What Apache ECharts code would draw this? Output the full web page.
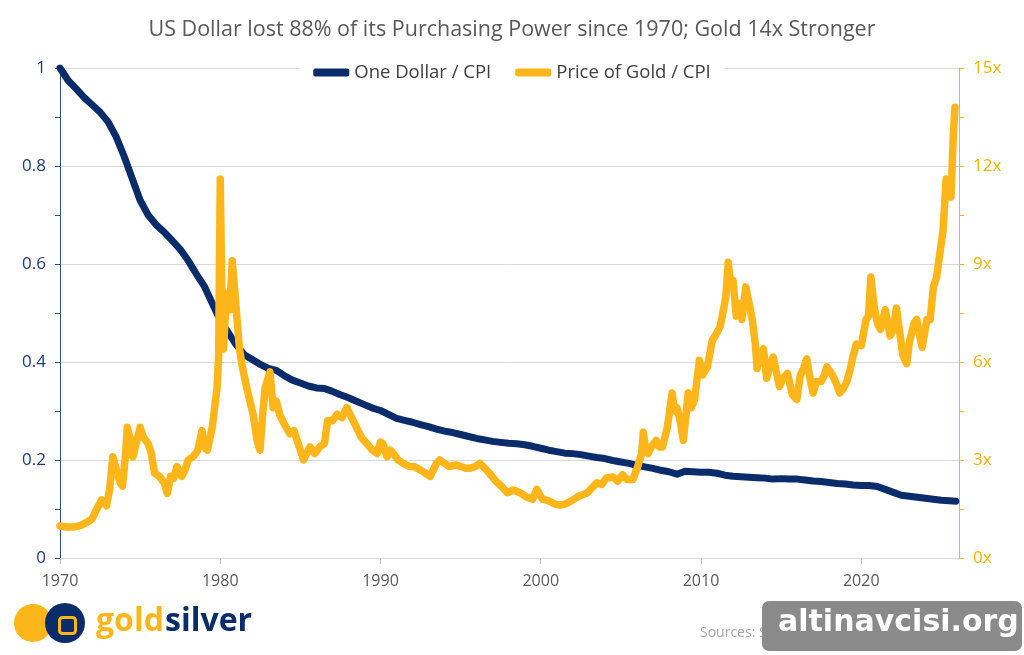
<!DOCTYPE html>
<html lang="en">
<head>
	<meta charset="UTF-8">
	<title>US Dollar vs Gold / CPI</title>
	<script src="https://cdn.jsdelivr.net/npm/echarts@6/dist/echarts.min.js"></script>
	<style>
		html, body { margin: 0; padding: 0; background: #fff; }
		#chart { width: 1024px; height: 655px; }
	</style>
</head>
<body>
	<div id="chart"></div>
	<script>
	// one dollar deflated by CPI (1970 = 1)
	var dollarYears = [1970, 1970.5, 1971, 1971.5, 1972, 1972.5, 1973, 1973.5, 1974, 1974.5,
		1975, 1975.5, 1976, 1976.5, 1977, 1977.5, 1978, 1978.5, 1979, 1979.5,
		1980, 1980.5, 1981, 1981.5, 1982, 1982.5, 1983, 1983.5, 1984, 1984.5,
		1985, 1985.5, 1986, 1986.5, 1987, 1987.5, 1988, 1988.5, 1989, 1989.5,
		1990, 1990.5, 1991, 1991.5, 1992, 1992.5, 1993, 1993.5, 1994, 1994.5,
		1995, 1995.5, 1996, 1996.5, 1997, 1997.5, 1998, 1998.5, 1999, 1999.5,
		2000, 2000.5, 2001, 2001.5, 2002, 2002.5, 2003, 2003.5, 2004, 2004.5,
		2005, 2005.5, 2006, 2006.5, 2007, 2007.5, 2008, 2008.5, 2009, 2009.5,
		2010, 2010.5, 2011, 2011.5, 2012, 2012.5, 2013, 2013.5, 2014, 2014.5,
		2015, 2015.5, 2016, 2016.5, 2017, 2017.5, 2018, 2018.5, 2019, 2019.5,
		2020, 2020.5, 2021, 2021.5, 2022, 2022.5, 2023, 2023.5, 2024, 2024.5,
		2025, 2025.5, 2025.9];
	var dollarValues = [1.0, 0.975, 0.958, 0.94, 0.925, 0.91, 0.89, 0.86, 0.82, 0.775,
		0.73, 0.70, 0.68, 0.665, 0.648, 0.63, 0.607, 0.58, 0.555, 0.52,
		0.485, 0.46, 0.435, 0.415, 0.405, 0.395, 0.387, 0.383, 0.372, 0.363,
		0.357, 0.351, 0.347, 0.346, 0.34, 0.333, 0.327, 0.32, 0.313, 0.306,
		0.301, 0.293, 0.285, 0.281, 0.277, 0.272, 0.268, 0.263, 0.259, 0.256,
		0.252, 0.248, 0.244, 0.241, 0.238, 0.236, 0.234, 0.233, 0.231, 0.228,
		0.224, 0.22, 0.217, 0.214, 0.213, 0.211, 0.208, 0.205, 0.203, 0.199,
		0.196, 0.193, 0.189, 0.186, 0.183, 0.179, 0.176, 0.171, 0.177, 0.176,
		0.175, 0.175, 0.173, 0.169, 0.167, 0.166, 0.165, 0.164, 0.163, 0.161,
		0.162, 0.161, 0.161, 0.159, 0.157, 0.156, 0.154, 0.152, 0.151, 0.149,
		0.148, 0.148, 0.146, 0.14, 0.134, 0.128, 0.126, 0.124, 0.122, 0.12,
		0.118, 0.117, 0.116];

	// gold price deflated by CPI (multiple of 1970 level)
	var goldYears = [1970, 1970.4, 1970.9, 1971.3, 1971.7, 1972, 1972.3, 1972.6, 1972.9, 1973.1,
		1973.3, 1973.5, 1973.75, 1973.9, 1974.1, 1974.2, 1974.4, 1974.55, 1974.8, 1975,
		1975.2, 1975.5, 1975.7, 1975.9, 1976.2, 1976.5, 1976.7, 1976.9, 1977.1, 1977.3,
		1977.6, 1977.8, 1978, 1978.3, 1978.6, 1978.86, 1979, 1979.2, 1979.5, 1979.7,
		1979.8, 1979.9, 1980, 1980.1, 1980.2, 1980.4, 1980.6, 1980.75, 1981, 1981.2,
		1981.4, 1981.66, 1981.85, 1982.05, 1982.3, 1982.48, 1982.65, 1982.8, 1983.1, 1983.3,
		1983.5, 1983.7, 1984, 1984.35, 1984.6, 1984.8, 1985.2, 1985.4, 1985.6, 1985.9,
		1986.2, 1986.5, 1986.7, 1987, 1987.3, 1987.6, 1987.9, 1988.2, 1988.5, 1988.8,
		1989.15, 1989.5, 1989.8, 1990, 1990.15, 1990.4, 1990.6, 1990.8, 1991.1, 1991.4,
		1991.8, 1992.1, 1992.45, 1992.8, 1993.1, 1993.5, 1993.7, 1994, 1994.3, 1994.7,
		1995, 1995.3, 1995.6, 1995.9, 1996.2, 1996.5, 1996.8, 1997.2, 1997.6, 1997.9,
		1998.3, 1998.7, 1999.1, 1999.5, 1999.75, 2000.1, 2000.5, 2000.9, 2001.2, 2001.5,
		2001.8, 2002, 2002.4, 2002.9, 2003.2, 2003.5, 2003.8, 2004.1, 2004.5, 2004.8,
		2005.1, 2005.4, 2005.75, 2006.05, 2006.3, 2006.4, 2006.55, 2006.7, 2006.9, 2007.2,
		2007.4, 2007.6, 2007.9, 2008.2, 2008.35, 2008.5, 2008.7, 2008.9, 2009.2, 2009.4,
		2009.6, 2009.9, 2010.1, 2010.4, 2010.7, 2011, 2011.2, 2011.4, 2011.55, 2011.7,
		2011.85, 2012, 2012.2, 2012.4, 2012.55, 2012.8, 2013, 2013.2, 2013.4, 2013.5,
		2013.7, 2013.9, 2014.1, 2014.3, 2014.5, 2014.7, 2014.9, 2015.1, 2015.4, 2015.7,
		2015.98, 2016.2, 2016.4, 2016.6, 2016.8, 2017, 2017.2, 2017.5, 2017.7, 2017.85,
		2018.2, 2018.4, 2018.66, 2018.9, 2019.1, 2019.3, 2019.5, 2019.7, 2020, 2020.3,
		2020.45, 2020.6, 2020.8, 2021, 2021.2, 2021.5, 2021.8, 2022, 2022.2, 2022.4,
		2022.6, 2022.84, 2023, 2023.3, 2023.46, 2023.65, 2023.8, 2024.1, 2024.3, 2024.5,
		2024.7, 2024.9, 2025.1, 2025.3, 2025.5, 2025.6, 2025.75, 2025.85];
	var goldValues = [0.98, 0.95, 0.95, 1.0, 1.1, 1.2, 1.5, 1.78, 1.6, 2.1,
		3.1, 2.75, 2.3, 2.2, 3.2, 4.0, 3.6, 3.1, 3.6, 4.0,
		3.7, 3.5, 3.2, 2.6, 2.5, 2.3, 1.98, 2.5, 2.45, 2.8,
		2.5, 2.7, 3.0, 3.1, 3.3, 3.9, 3.4, 3.3, 4.0, 4.8,
		5.2, 6.2, 11.6, 8.0, 6.4, 8.1, 7.6, 9.1, 7.6, 6.4,
		5.8, 5.2, 4.8, 4.4, 3.6, 3.3, 4.4, 5.2, 5.7, 4.6,
		4.8, 4.4, 4.1, 3.8, 3.9, 3.6, 3.0, 3.2, 3.4, 3.2,
		3.4, 3.5, 4.2, 4.2, 4.4, 4.3, 4.6, 4.3, 4.0, 3.7,
		3.5, 3.3, 3.2, 3.55, 3.5, 3.1, 3.3, 3.2, 3.0, 2.9,
		2.8, 2.8, 2.7, 2.6, 2.5, 2.9, 3.0, 2.9, 2.8, 2.85,
		2.8, 2.75, 2.75, 2.8, 2.9, 2.75, 2.6, 2.35, 2.17, 2.0,
		2.08, 2.0, 1.87, 1.8, 2.1, 1.8, 1.75, 1.65, 1.62, 1.65,
		1.72, 1.78, 1.9, 1.99, 2.15, 2.3, 2.25, 2.45, 2.48, 2.35,
		2.55, 2.4, 2.4, 2.8, 3.2, 3.85, 3.3, 3.2, 3.4, 3.6,
		3.4, 3.4, 4.0, 5.05, 4.5, 4.6, 4.2, 3.6, 5.05, 4.6,
		4.85, 6.05, 5.6, 5.85, 6.65, 6.9, 7.1, 7.6, 8.0, 9.05,
		8.4, 8.5, 7.4, 7.8, 7.3, 8.3, 7.8, 7.3, 6.5, 5.8,
		6.2, 6.4, 5.5, 5.9, 6.15, 5.7, 5.25, 5.5, 5.65, 5.0,
		4.85, 5.6, 5.8, 6.1, 5.5, 5.05, 5.4, 5.4, 5.6, 5.85,
		5.6, 5.4, 5.05, 5.2, 5.4, 5.75, 6.2, 6.55, 6.5, 7.3,
		7.4, 8.6, 7.7, 7.2, 7.0, 7.6, 6.8, 7.0, 7.65, 6.9,
		6.2, 5.95, 6.6, 7.2, 7.3, 6.8, 6.45, 7.3, 7.3, 8.3,
		8.6, 9.3, 10.0, 11.6, 11.3, 11.05, 13.0, 13.8];

	var navy = '#0b2c6b';
	var gold = '#fcb61a';

	function pairs(xs, ys) {
		var res = [];
		for (var i = 0; i < xs.length; i++) {
			res.push([xs[i], ys[i]]);
		}
		return res;
	}

	var myChart = echarts.init(document.getElementById('chart'));
	var option = {
		backgroundColor: '#fff',
		animation: false,
		title: {
			text: 'US Dollar lost 88% of its Purchasing Power since 1970; Gold 14x Stronger',
			left: 'center',
			top: 14,
			textStyle: {
				fontFamily: 'Open Sans',
				fontSize: 21.5,
				fontWeight: 'normal',
				color: '#595959'
			}
		},
		legend: {
			top: 61,
			left: 'center',
			itemGap: 24,
			itemWidth: 36,
			itemHeight: 8,
			icon: 'roundRect',
			backgroundColor: '#fff',
			padding: [2, 14],
			textStyle: {
				fontFamily: 'Open Sans',
				fontSize: 18.5,
				color: '#404040'
			},
			data: ['One Dollar / CPI', 'Price of Gold / CPI']
		},
		grid: {
			left: 60,
			right: 65,
			top: 68,
			bottom: 97
		},
		xAxis: {
			type: 'value',
			min: 1970,
			max: 2026.1,
			interval: 10,
			axisLine: { lineStyle: { color: '#d9d9d9', width: 1 } },
			axisTick: { show: true, length: 6, lineStyle: { color: '#bfbfbf' } },
			splitLine: { show: false },
			axisLabel: {
				margin: 15,
				fontFamily: 'Open Sans',
				fontSize: 16,
				color: '#595959',
				showMaxLabel: false,
				formatter: function (v) {
					return v % 10 === 0 ? String(v) : '';
				}
			}
		},
		yAxis: [
			{
				type: 'value',
				min: 0,
				max: 1,
				interval: 0.2,
				position: 'left',
				axisLine: { show: true, lineStyle: { color: '#2f4f86', width: 1 } },
				axisTick: { show: true, length: 5, lineStyle: { color: '#2f4f86' } },
				minorTick: { show: true, splitNumber: 2, length: 5, lineStyle: { color: '#2f4f86' } },
				splitLine: { show: true, lineStyle: { color: '#d9d9d9', width: 1 } },
				axisLabel: {
					margin: 14,
					fontFamily: 'Open Sans',
					fontSize: 17,
					color: '#1f3c78',
					formatter: function (v) {
						return String(Math.round(v * 10) / 10);
					}
				}
			},
			{
				type: 'value',
				min: 0,
				max: 15,
				interval: 3,
				position: 'right',
				axisLine: { show: true, lineStyle: { color: gold, width: 1 } },
				axisTick: { show: true, length: 5, lineStyle: { color: gold } },
				minorTick: { show: true, splitNumber: 2, length: 5, lineStyle: { color: gold } },
				splitLine: { show: false },
				axisLabel: {
					margin: 14,
					fontFamily: 'Open Sans',
					fontSize: 17,
					color: '#f5b400',
					formatter: '{value}x'
				}
			}
		],
		series: [
			{
				name: 'One Dollar / CPI',
				type: 'line',
				yAxisIndex: 0,
				showSymbol: false,
				color: navy,
				lineStyle: { width: 7, color: navy, cap: 'round', join: 'round' },
				data: pairs(dollarYears, dollarValues)
			},
			{
				name: 'Price of Gold / CPI',
				type: 'line',
				yAxisIndex: 1,
				showSymbol: false,
				color: gold,
				lineStyle: { width: 7.5, color: gold, cap: 'round', join: 'round' },
				data: pairs(goldYears, goldValues)
			}
		],
		graphic: [
			// goldsilver logo
			{ type: 'circle', left: 14, top: 604, shape: { r: 19 }, style: { fill: '#fcb61a' } },
			{ type: 'circle', left: 45, top: 603, shape: { r: 20 }, style: { fill: '#0b2c6b' } },
			{ type: 'rect', left: 57, top: 615, shape: { width: 16, height: 16, r: 3 }, style: { fill: 'none', stroke: '#fcb61a', lineWidth: 3 } },
			{ type: 'text', left: 96, top: 606, style: { text: 'gold', fill: '#fcb61a', font: 'bold 32px "Open Sans"' } },
			{ type: 'text', left: 165, top: 606, style: { text: 'silver', fill: '#0b2c6b', font: 'bold 32px "Open Sans"' } },
			// sources line
			{ type: 'text', left: 700, top: 626, style: { text: 'Sources: StLouisFed.org, GoldSilver.com', fill: '#a6a6a6', font: '14px "Open Sans"' } },
			// watermark box
			{ type: 'rect', left: 762, top: 601, shape: { width: 260, height: 50, r: 7 }, style: { fill: '#8a8a8a' } },
			{ type: 'text', left: 778, top: 608, style: { text: 'altinavcisi.org', fill: '#fff', font: 'bold 30px "DejaVu Sans"', textShadowColor: '#222', textShadowBlur: 0, textShadowOffsetX: 2, textShadowOffsetY: 2 } }
		]
	};
	myChart.setOption(option);
	</script>
</body>
</html>
